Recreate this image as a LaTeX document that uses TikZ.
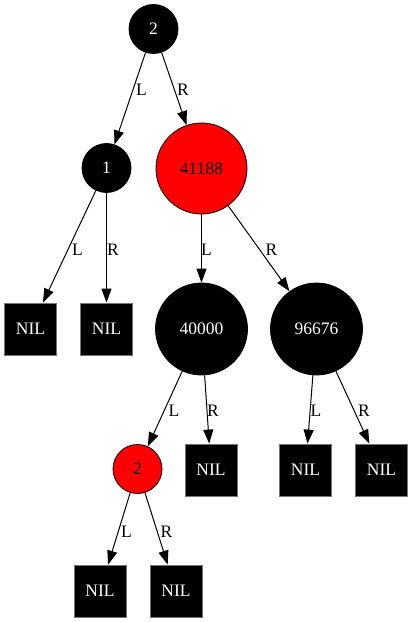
\documentclass[tikz,border=0pt]{standalone}
\usepackage{fontspec}
\setmainfont{Liberation Serif}
\usetikzlibrary{arrows.meta}
\begin{document}
\begin{tikzpicture}[x=1bp,y=-1bp,
  txt/.style={font=\fontsize{17.5bp}{20bp}\selectfont},
  bnode/.style={circle,fill=black,draw=black,line width=0.8bp,inner sep=0pt,text=white,txt},
  rnode/.style={circle,fill=red,draw=black,line width=0.8bp,inner sep=0pt,text=black,txt},
  nilbox/.style={rectangle,fill=black,draw=black!55,line width=0.8bp,minimum size=52bp,inner sep=0pt,text=white,txt},
  conn/.style={draw,line width=1bp,-{Triangle[length=14bp,width=10bp]}},
  lbl/.style={inner sep=0pt,txt}]
\useasboundingbox (0,0) rectangle (413,622);
% nodes
\node[bnode,minimum size=49bp] (n2) at (153.5,29) {2};
\node[bnode,minimum size=49bp] (n1) at (106.5,168) {1};
\node[rnode,minimum size=91bp] (n41188) at (201.5,168.5) {41188};
\node[nilbox] (nil1) at (30.5,329) {NIL};
\node[nilbox] (nil2) at (106.5,329) {NIL};
\node[bnode,minimum size=92bp] (n40000) at (201.5,329) {40000};
\node[bnode,minimum size=92bp] (n96676) at (316.5,329) {96676};
\node[rnode,minimum size=49bp] (r2) at (137.5,469) {2};
\node[nilbox] (nil3) at (211,470) {NIL};
\node[nilbox] (nil4) at (305.5,470) {NIL};
\node[nilbox] (nil5) at (381.5,470) {NIL};
\node[nilbox] (nil6) at (100,591) {NIL};
\node[nilbox] (nil7) at (176,591) {NIL};
% connectors
\draw[conn] (n2) -- (n1);
\draw[conn] (n2) -- (n41188);
\draw[conn] (n1) -- (nil1);
\draw[conn] (n1) -- (nil2);
\draw[conn] (n41188) -- (n40000);
\draw[conn] (n41188) -- (n96676);
\draw[conn] (n40000) -- (r2);
\draw[conn] (n40000) -- (nil3);
\draw[conn] (n96676) -- (nil4);
\draw[conn] (n96676) -- (nil5);
\draw[conn] (r2) -- (nil6);
\draw[conn] (r2) -- (nil7);
% edge labels
\node[lbl] (l1) at (141.5,90) {L};
\node[lbl] (l2) at (183,90) {R};
\node[lbl] (l3) at (77.5,250) {L};
\node[lbl] (l4) at (113,250) {R};
\node[lbl] (l5) at (206.5,250) {L};
\node[lbl] (l6) at (271.5,250) {R};
\node[lbl] (l7) at (174,410.5) {L};
\node[lbl] (l8) at (213,410.5) {R};
\node[lbl] (l9) at (316,410.5) {L};
\node[lbl] (l10) at (364,410.5) {R};
\node[lbl] (l11) at (126.5,531.5) {L};
\node[lbl] (l12) at (166.5,531.5) {R};
\end{tikzpicture}
\end{document}
